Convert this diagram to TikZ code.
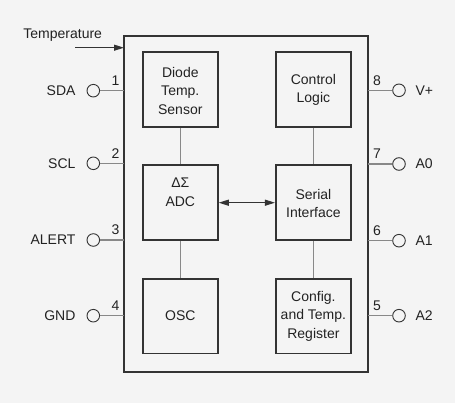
\documentclass[tikz,border=0pt]{standalone}
\usepackage{fontspec}
\setmainfont{Liberation Sans}
\usetikzlibrary{arrows.meta}
\definecolor{bg}{HTML}{F4F4F4}
\definecolor{boxc}{HTML}{333333}
\definecolor{linec}{HTML}{888888}
\definecolor{txt}{HTML}{222222}
\begin{document}
\begin{tikzpicture}[x=1pt,y=-1pt,
  font=\fontsize{14}{18.5}\selectfont, text=txt,
  blk/.style={draw=boxc, line width=1.9pt, minimum width=75pt, minimum height=74.5pt, inner sep=0pt, align=center},
  conn/.style={draw=linec, line width=1.3pt},
  pin/.style={circle, draw=boxc, line width=0.9pt, minimum size=12.6pt, inner sep=0pt},
  pnum/.style={inner sep=0pt},
  arr/.style={-{Triangle[length=10pt,width=6pt]}},
  darr/.style={{Triangle[length=10pt,width=6pt]}-{Triangle[length=10pt,width=6pt]}}
]
\fill[bg] (0,0) rectangle (455,403);
\useasboundingbox (0,0) rectangle (455,403);

% outer box
\node[draw=boxc, line width=1.9pt, minimum width=243.7pt, minimum height=336pt, inner sep=0pt] (chip) at (245.85,204) {};

% blocks
\node[blk] (diode) at (180.3,89.5) {};
\node[blk] (ctrl) at (313.4,89.5) {};
\node[blk] (adc) at (180.3,202.7) {};
\node[blk] (ser) at (313.4,202.7) {};
\node[blk] (osc) at (180.3,316.2) {};
\node[blk] (cfg) at (313.4,316.2) {};

\node[align=center] (diodet) at (180.3,90.5) {Diode\\Temp.\\Sensor};
\node[align=center] (ctrlt) at (313.4,90) {Control\\Logic};
\node[align=center] (adct) at (180.3,192.5) {ΔΣ\\ADC};
\node[align=center] (sert) at (313.4,203.3) {Serial\\Interface};
\node (osct) at (180.3,315.7) {OSC};
\node[align=center] (cfgt) at (313.4,316.3) {Config.\\and Temp.\\Register};

% internal connectors
\draw[conn] (diode.south) -- (adc.north);
\draw[conn] (adc.south) -- (osc.north);
\draw[conn] (ctrl.south) -- (ser.north);
\draw[conn] (ser.south) -- (cfg.north);
\draw[boxc, line width=1.1pt, darr] (adc.east) -- (ser.west);

% temperature
\node (temp) at (62.7,35) {Temperature};
\coordinate (tin) at (75,47.7);
\coordinate (tend) at (124,47.7);
\draw[boxc, line width=1.1pt, arr] (tin) -- (tend);

% left pins
\foreach \nm/\lab/\num/\y in {sda/SDA/1/90.7, scl/SCL/2/163.3, alert/ALERT/3/240, gnd/GND/4/315.7}{
  \node[pin] (\nm) at (93.3,\y) {};
  \coordinate (\nm e) at (124,\y);
  \draw[conn] (\nm.east) -- (\nm e);
  \node[anchor=east] (\nm l) at (79,\y) {\lab};
  \node[pnum] (\nm n) at (115.5,\y-10) {\num};
}
% right pins
\foreach \nm/\lab/\num/\y in {vp/V+/8/90.3, azero/A0/7/164, aone/A1/6/240.7, atwo/A2/5/315.7}{
  \node[pin] (\nm) at (399,\y) {};
  \coordinate (\nm e) at (367.7,\y);
  \draw[conn] (\nm e) -- (\nm.west);
  \node[anchor=west] (\nm l) at (412,\y) {\lab};
  \node[pnum] (\nm n) at (377,\y-10) {\num};
}
\end{tikzpicture}
\end{document}
